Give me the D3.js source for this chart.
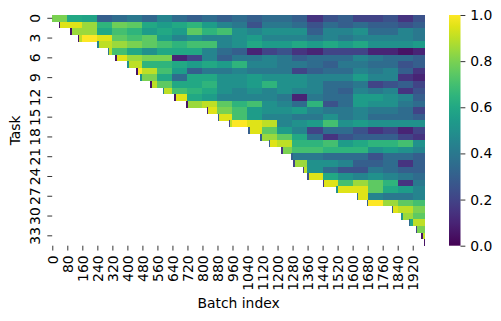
<!DOCTYPE html>
<html>
<head>
<meta charset="utf-8">
<script src="https://cdn.jsdelivr.net/npm/d3@7"></script>
<style>
  body { margin: 0; background: #fff; }
  text { font-family: "DejaVu Sans", sans-serif; }
</style>
</head>
<body>
<div id="chart"></div>
<script>
// heatmap of accuracy per task (rows) over training batches (columns)
var nBatches = 1986;
var bucket = 80;      // batches per colour block
var onsetLen = 8;     // batches of the short dip when a task appears
var tasks = d3.range(35);
var xTicks = d3.range(0, 1921, 80);
var yTicks = d3.range(0, 34, 3);
var cbTicks = [0, 0.2, 0.4, 0.6, 0.8, 1.0];

// batch at which each task first appears
var startBatch = [0, 35, 97, 137, 240, 297, 337, 400, 447, 469,
                  523, 590, 649, 713, 824, 882, 940, 1045, 1108, 1153,
                  1221, 1274, 1283, 1336, 1360, 1440, 1512, 1623, 1677, 1810,
                  1860, 1899, 1938, 1965, 1980];

// value during the first few batches of each task
var onsetAcc = [0.8, 0.05, 0.05, 0.05, 0.45, 0.4, 0.05, 0.5, 0.05, 0.5,
                0.05, 0.45, 0.05, 0.05, 0.1, 0.3, 0.2, 0.3, 0.3, 0.3,
                0.15, 0.3, 0.2, 0.2, 0.25, 0.15, 0.5, 0.35, 0.3, 0.3,
                0.5, 0.35, 0.2, 0.05, 0.05];

// values per 80-batch block, starting at the block that holds startBatch
var acc = [
  [0.8, 0.6, 0.58, 0.3, 0.35, 0.4, 0.33, 0.45, 0.35, 0.3, 0.35, 0.3, 0.35, 0.3, 0.35, 0.35, 0.3, 0.15, 0.25, 0.3, 0.2, 0.2, 0.25, 0.15, 0.25],
  [0.95, 0.95, 0.85, 0.65, 0.78, 0.75, 0.6, 0.55, 0.6, 0.65, 0.55, 0.45, 0.4, 0.25, 0.4, 0.4, 0.35, 0.25, 0.35, 0.3, 0.35, 0.3, 0.3, 0.25, 0.3],
  [0.85, 0.85, 0.6, 0.7, 0.65, 0.55, 0.6, 0.55, 0.75, 0.65, 0.7, 0.5, 0.45, 0.5, 0.5, 0.5, 0.3, 0.45, 0.45, 0.5, 0.35, 0.35, 0.45, 0.4],
  [0.9, 1.0, 0.95, 0.75, 0.7, 0.75, 0.55, 0.45, 0.5, 0.45, 0.45, 0.5, 0.55, 0.45, 0.45, 0.45, 0.4, 0.45, 0.4, 0.45, 0.45, 0.45, 0.45, 0.4],
  [0.9, 0.85, 0.8, 0.75, 0.7, 0.65, 0.7, 0.7, 0.45, 0.5, 0.6, 0.55, 0.55, 0.6, 0.55, 0.6, 0.55, 0.6, 0.5, 0.5, 0.5, 0.55],
  [0.9, 0.7, 0.6, 0.5, 0.6, 0.6, 0.6, 0.45, 0.35, 0.3, 0.1, 0.2, 0.25, 0.15, 0.1, 0.2, 0.2, 0.2, 0.1, 0.1, 0.05, 0.1],
  [0.95, 0.85, 0.8, 0.8, 0.1, 0.2, 0.45, 0.3, 0.4, 0.4, 0.45, 0.4, 0.3, 0.35, 0.35, 0.35, 0.45, 0.4, 0.35, 0.35, 0.3],
  [0.9, 0.65, 0.65, 0.6, 0.55, 0.6, 0.55, 0.65, 0.45, 0.45, 0.4, 0.4, 0.35, 0.3, 0.4, 0.4, 0.35, 0.35, 0.25, 0.3],
  [1.0, 0.9, 0.7, 0.55, 0.3, 0.4, 0.4, 0.45, 0.4, 0.4, 0.4, 0.2, 0.3, 0.35, 0.35, 0.45, 0.4, 0.45, 0.3, 0.15],
  [0.7, 0.8, 0.6, 0.35, 0.6, 0.6, 0.5, 0.5, 0.55, 0.5, 0.5, 0.5, 0.45, 0.45, 0.45, 0.55, 0.45, 0.45, 0.15, 0.1],
  [0.9, 0.75, 0.6, 0.6, 0.65, 0.5, 0.5, 0.55, 0.65, 0.5, 0.5, 0.45, 0.35, 0.35, 0.4, 0.2, 0.25, 0.3, 0.2],
  [0.9, 0.7, 0.65, 0.6, 0.5, 0.45, 0.5, 0.45, 0.5, 0.45, 0.45, 0.35, 0.3, 0.45, 0.4, 0.45, 0.15, 0.25],
  [0.95, 0.6, 0.55, 0.45, 0.45, 0.45, 0.45, 0.4, 0.1, 0.4, 0.35, 0.35, 0.55, 0.55, 0.5, 0.45, 0.3],
  [0.9, 0.85, 0.9, 0.75, 0.65, 0.7, 0.5, 0.45, 0.35, 0.65, 0.25, 0.35, 0.55, 0.5, 0.5, 0.4, 0.35],
  [0.95, 0.8, 0.7, 0.55, 0.5, 0.5, 0.55, 0.45, 0.4, 0.4, 0.45, 0.4, 0.4, 0.35, 0.2],
  [0.95, 0.7, 0.55, 0.45, 0.45, 0.4, 0.4, 0.5, 0.4, 0.45, 0.35, 0.35, 0.35, 0.3],
  [0.9, 1.0, 0.95, 0.9, 0.45, 0.5, 0.55, 0.7, 0.5, 0.55, 0.5, 0.5, 0.5, 0.5],
  [0.95, 0.75, 0.55, 0.45, 0.2, 0.35, 0.35, 0.25, 0.15, 0.2, 0.1, 0.2],
  [0.85, 0.85, 0.75, 0.6, 0.35, 0.15, 0.25, 0.3, 0.3, 0.3, 0.2, 0.15],
  [0.95, 0.9, 0.65, 0.65, 0.7, 0.55, 0.6, 0.65, 0.65, 0.7, 0.5],
  [0.8, 0.7, 0.7, 0.65, 0.65, 0.65, 0.5, 0.55, 0.5, 0.45],
  [0.5, 0.4, 0.4, 0.35, 0.35, 0.35, 0.25, 0.35, 0.35, 0.3],
  [0.85, 0.5, 0.5, 0.45, 0.3, 0.3, 0.35, 0.15, 0.3],
  [0.9, 0.5, 0.35, 0.25, 0.25, 0.4, 0.35, 0.3, 0.3],
  [0.95, 0.6, 0.5, 0.45, 0.5, 0.45, 0.4, 0.35],
  [0.95, 0.7, 0.85, 0.75, 0.65, 0.15, 0.4],
  [0.85, 0.95, 0.95, 0.75, 0.6, 0.55, 0.45],
  [0.95, 0.45, 0.4, 0.4, 0.45],
  [1.0, 1.0, 0.85, 0.75, 0.7],
  [0.95, 0.9, 0.8],
  [0.85, 0.75],
  [0.6, 0.9],
  [0.8],
  [0.9],
  [0.05]
];

// geometry (matches the matplotlib figure)
var plotL = 52.2, plotR = 425, plotT = 15, plotB = 245.7;
var svgW = 501, svgH = 321;
var fontSize = 13.9, tickLen = 4.86;

var x = d3.scaleLinear().domain([0, nBatches]).range([plotL, plotR]);
var y = d3.scaleBand().domain(tasks).range([plotT, plotB]).padding(0);
var color = d3.scaleSequential(d3.interpolateViridis).domain([0, 1]);

// flatten rows into blocks
var cells = [];
tasks.forEach(function(t) {
  var s = startBatch[t];
  var onEnd = Math.min(s + onsetLen, nBatches);
  cells.push({task: t, b0: s, b1: onEnd, v: onsetAcc[t]});
  var c0 = Math.floor(s / bucket);
  acc[t].forEach(function(v, i) {
    var b0 = Math.max((c0 + i) * bucket, onEnd);
    var b1 = Math.min((c0 + i + 1) * bucket, nBatches);
    if (b1 > b0) cells.push({task: t, b0: b0, b1: b1, v: v});
  });
});

var svg = d3.select("#chart").append("svg")
    .attr("width", svgW)
    .attr("height", svgH);

svg.append("g")
    .attr("shape-rendering", "crispEdges")
  .selectAll("rect")
  .data(cells)
  .enter().append("rect")
    .attr("x", function(d) { return x(d.b0); })
    .attr("width", function(d) { return x(d.b1) - x(d.b0) + 0.3; })
    .attr("y", function(d) { return y(d.task); })
    .attr("height", y.bandwidth() + 0.3)
    .attr("fill", function(d) { return color(d.v); });

// x axis
var gx = svg.append("g")
    .attr("transform", "translate(0," + plotB + ")")
    .call(d3.axisBottom(x)
      .tickValues(xTicks.map(function(d) { return d + 0.5; }))
      .tickFormat(function(d) { return d - 0.5; })
      .tickSize(tickLen));
gx.select(".domain").remove();
gx.selectAll("line").attr("stroke", "#000").attr("stroke-width", 0.8);
gx.selectAll("text")
    .attr("transform", "rotate(-90)")
    .attr("x", -(tickLen + 4.86))
    .attr("y", 0)
    .attr("dy", "0.35em")
    .attr("text-anchor", "end")
    .attr("fill", "#000")
    .style("font-size", fontSize + "px");

// y axis
var gy = svg.append("g")
    .attr("transform", "translate(" + plotL + ",0)")
    .call(d3.axisLeft(y)
      .tickValues(yTicks)
      .tickSize(tickLen));
gy.select(".domain").remove();
gy.selectAll("line").attr("stroke", "#000").attr("stroke-width", 0.8);
gy.selectAll("text")
    .attr("transform", "rotate(-90)")
    .attr("x", 0)
    .attr("y", -12.2)
    .attr("dy", 0)
    .attr("text-anchor", "middle")
    .attr("fill", "#000")
    .style("font-size", fontSize + "px");

// axis titles
svg.append("text")
    .attr("x", (plotL + plotR) / 2)
    .attr("y", 308)
    .attr("text-anchor", "middle")
    .style("font-size", fontSize + "px")
    .text("Batch index");

svg.append("text")
    .attr("transform", "translate(20," + (plotT + plotB) / 2 + ") rotate(-90)")
    .attr("text-anchor", "middle")
    .style("font-size", fontSize + "px")
    .text("Task");

// colorbar
var cbX = 449, cbW = 11.5;
var grad = svg.append("defs").append("linearGradient")
    .attr("id", "cb")
    .attr("x1", 0).attr("y1", 1).attr("x2", 0).attr("y2", 0);
grad.selectAll("stop")
  .data(d3.range(0, 1.001, 0.05))
  .enter().append("stop")
    .attr("offset", function(d) { return d; })
    .attr("stop-color", function(d) { return color(d); });

svg.append("rect")
    .attr("x", cbX)
    .attr("y", plotT)
    .attr("width", cbW)
    .attr("height", plotB - plotT)
    .attr("fill", "url(#cb)");

var cy = d3.scaleLinear().domain([0, 1]).range([plotB, plotT]);
var gc = svg.append("g")
    .attr("transform", "translate(" + (cbX + cbW) + ",0)")
    .call(d3.axisRight(cy)
      .tickValues(cbTicks)
      .tickFormat(d3.format(".1f"))
      .tickSize(tickLen)
      .tickPadding(4.86));
gc.select(".domain").remove();
gc.selectAll("line").attr("stroke", "#000").attr("stroke-width", 0.8);
gc.selectAll("text")
    .attr("fill", "#000")
    .style("font-size", fontSize + "px");
</script>
</body>
</html>
